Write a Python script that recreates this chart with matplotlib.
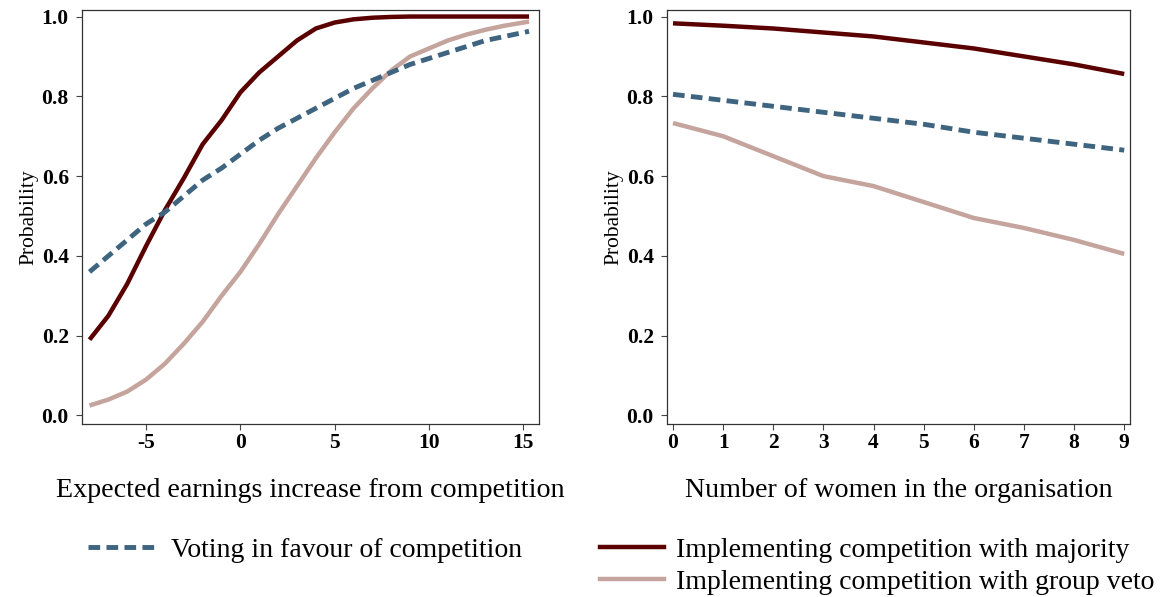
import matplotlib
matplotlib.use("Agg")
import matplotlib.pyplot as plt
from matplotlib.lines import Line2D

plt.rcParams['font.family'] = ['Liberation Serif', 'DejaVu Serif']

# Left panel: predicted probabilities against expected earnings increase
earnings = [-8, -7, -6, -5, -4, -3, -2, -1, 0, 1, 2, 3, 4, 5, 6, 7, 8, 9, 10,
            11, 12, 13, 14, 15, 15.3]
vote_earn = [0.36, 0.40, 0.44, 0.48, 0.51, 0.55, 0.59, 0.62, 0.655, 0.69, 0.72,
             0.745, 0.77, 0.795, 0.82, 0.84, 0.86, 0.88, 0.895, 0.91, 0.925,
             0.94, 0.95, 0.96, 0.963]
major_earn = [0.19, 0.25, 0.33, 0.425, 0.515, 0.595, 0.68, 0.74, 0.81, 0.86,
              0.90, 0.94, 0.97, 0.985, 0.993, 0.997, 0.999, 1.0, 1.0, 1.0,
              1.0, 1.0, 1.0, 1.0, 1.0]
veto_earn = [0.025, 0.04, 0.06, 0.09, 0.13, 0.18, 0.235, 0.30, 0.36, 0.43,
             0.505, 0.575, 0.645, 0.71, 0.77, 0.82, 0.865, 0.90, 0.92, 0.94,
             0.955, 0.967, 0.977, 0.985, 0.987]

# Right panel: predicted probabilities against number of women
women = [0, 1, 2, 3, 4, 5, 6, 7, 8, 9]
vote_women = [0.805, 0.79, 0.775, 0.76, 0.745, 0.73, 0.71, 0.695, 0.68, 0.665]
major_women = [0.983, 0.977, 0.97, 0.96, 0.95, 0.935, 0.92, 0.90, 0.88, 0.856]
veto_women = [0.733, 0.70, 0.65, 0.60, 0.575, 0.535, 0.495, 0.47, 0.44, 0.405]

earn_ticks = [-5, 0, 5, 10, 15]
prob_ticks = [0.0, 0.2, 0.4, 0.6, 0.8, 1.0]

c_vote = '#3e6480'
c_major = '#5a0000'
c_veto = '#c4a49c'
lw = 3.2
lw_dash = 3.5
dash = (2.4, 1.3)

fig = plt.figure(figsize=(11.61, 5.97), dpi=100)
ax1 = fig.add_axes([0.0706, 0.29, 0.394, 0.693])
ax2 = fig.add_axes([0.5745, 0.29, 0.399, 0.693])


def draw(ax, x, vote, major, veto):
    ax.plot(x, major, color=c_major, lw=lw, solid_capstyle='butt')
    ax.plot(x, veto, color=c_veto, lw=lw, solid_capstyle='butt')
    ax.plot(x, vote, color=c_vote, lw=lw_dash, dashes=dash)
    ax.set_ylim(-0.021, 1.016)
    ax.set_yticks(prob_ticks)
    ax.set_yticklabels([f'{t:.1f}' for t in prob_ticks])
    ax.set_ylabel('Probability', fontsize=15.5, labelpad=2)
    ax.tick_params(direction='out', length=4.5, width=0.8, color='#444444',
                   labelsize=15.5, pad=2)
    ax.tick_params(axis='y', pad=5)
    for s in ax.spines.values():
        s.set_color('#333333')
        s.set_linewidth(0.9)


draw(ax1, earnings, vote_earn, major_earn, veto_earn)
ax1.set_xlim(-8.4, 15.85)
ax1.set_xticks(earn_ticks)
ax1.set_xticklabels([str(t) for t in earn_ticks])
ax1.set_xlabel('Expected earnings increase from competition', fontsize=20.2,
               labelpad=18)

draw(ax2, women, vote_women, major_women, veto_women)
ax2.set_xlim(-0.12, 9.12)
ax2.set_xticks(women)
ax2.set_xticklabels([str(t) for t in women])
ax2.set_xlabel('Number of women in the organisation', fontsize=20.2,
               labelpad=18)

for ax in (ax1, ax2):
    for lab in ax.get_xticklabels() + ax.get_yticklabels():
        lab.set_fontweight('bold')

# Legend: voting on the left, implementation rules stacked on the right
h_vote = Line2D([], [], color=c_vote, lw=lw_dash, dashes=dash)
h_major = Line2D([], [], color=c_major, lw=lw)
h_veto = Line2D([], [], color=c_veto, lw=lw)

leg_kw = dict(frameon=False, fontsize=20, handletextpad=0.42,
              labelspacing=0.25, borderpad=0, borderaxespad=0)
fig.legend([h_vote], ['Voting in favour of competition'],
           loc='upper left', bbox_to_anchor=(0.0758, 0.1), 
           handlelength=2.55, **leg_kw)
fig.legend([h_major, h_veto],
           ['Implementing competition with majority',
            'Implementing competition with group veto'],
           loc='upper left', bbox_to_anchor=(0.5168, 0.1),
           handlelength=2.3, **leg_kw)

fig.savefig('out.png', dpi=100)
